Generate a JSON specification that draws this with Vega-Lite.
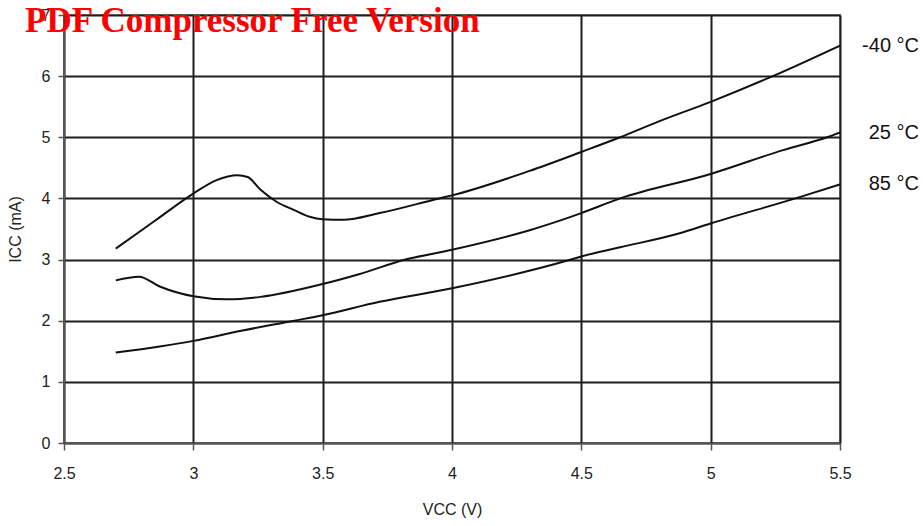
{
  "$schema": "https://vega.github.io/schema/vega-lite/v6.json",
  "width": 776,
  "height": 428,
  "autosize": {"type": "none"},
  "padding": {"left": 64, "top": 15, "right": 83, "bottom": 83},
  "background": "white",
  "config": {
    "view": {"stroke": "#8a8a8a", "strokeWidth": 2},
    "font": "Liberation Sans",
    "axis": {
      "grid": true,
      "gridColor": "#1e1e1e",
      "gridWidth": 2,
      "gridOpacity": 1,
      "domainColor": "#555",
      "domainWidth": 1.5,
      "tickColor": "#555",
      "tickWidth": 1.5,
      "labelFlush": false,
      "labelFont": "Liberation Sans",
      "labelFontSize": 16,
      "labelColor": "#222",
      "titleFont": "Liberation Sans",
      "titleFontSize": 16,
      "titleFontWeight": "normal",
      "titleColor": "#222"
    }
  },
  "title": {
    "text": "PDF Compressor Free Version",
    "anchor": "start",
    "frame": "group",
    "font": "Liberation Serif",
    "fontSize": 35,
    "fontWeight": "bold",
    "color": "#ff0000",
    "baseline": "alphabetic",
    "offset": 0,
    "dx": -39,
    "dy": 60
  },
  "datasets": {
    "curves": [
      {"temp": "-40 °C", "v": 2.7, "i": 3.18},
      {"temp": "-40 °C", "v": 2.85, "i": 3.63},
      {"temp": "-40 °C", "v": 3.0, "i": 4.08},
      {"temp": "-40 °C", "v": 3.09, "i": 4.3},
      {"temp": "-40 °C", "v": 3.17, "i": 4.38},
      {"temp": "-40 °C", "v": 3.21, "i": 4.35},
      {"temp": "-40 °C", "v": 3.26, "i": 4.14},
      {"temp": "-40 °C", "v": 3.32, "i": 3.95},
      {"temp": "-40 °C", "v": 3.39, "i": 3.81},
      {"temp": "-40 °C", "v": 3.45, "i": 3.7},
      {"temp": "-40 °C", "v": 3.5, "i": 3.66},
      {"temp": "-40 °C", "v": 3.58, "i": 3.65},
      {"temp": "-40 °C", "v": 3.72, "i": 3.76},
      {"temp": "-40 °C", "v": 3.95, "i": 4.0},
      {"temp": "-40 °C", "v": 4.0, "i": 4.05},
      {"temp": "-40 °C", "v": 4.3, "i": 4.45},
      {"temp": "-40 °C", "v": 4.5, "i": 4.76},
      {"temp": "-40 °C", "v": 4.65, "i": 5.0},
      {"temp": "-40 °C", "v": 4.8, "i": 5.26},
      {"temp": "-40 °C", "v": 5.0, "i": 5.58},
      {"temp": "-40 °C", "v": 5.24, "i": 6.0},
      {"temp": "-40 °C", "v": 5.5, "i": 6.5},
      {"temp": "25 °C", "v": 2.7, "i": 2.66},
      {"temp": "25 °C", "v": 2.79, "i": 2.72},
      {"temp": "25 °C", "v": 2.87, "i": 2.56},
      {"temp": "25 °C", "v": 3.0, "i": 2.4},
      {"temp": "25 °C", "v": 3.13, "i": 2.35},
      {"temp": "25 °C", "v": 3.26, "i": 2.39},
      {"temp": "25 °C", "v": 3.5, "i": 2.6},
      {"temp": "25 °C", "v": 3.64, "i": 2.76},
      {"temp": "25 °C", "v": 3.82, "i": 3.0},
      {"temp": "25 °C", "v": 4.0, "i": 3.16},
      {"temp": "25 °C", "v": 4.3, "i": 3.48},
      {"temp": "25 °C", "v": 4.5, "i": 3.76},
      {"temp": "25 °C", "v": 4.65, "i": 4.0},
      {"temp": "25 °C", "v": 5.0, "i": 4.4},
      {"temp": "25 °C", "v": 5.28, "i": 4.79},
      {"temp": "25 °C", "v": 5.45, "i": 5.0},
      {"temp": "25 °C", "v": 5.5, "i": 5.08},
      {"temp": "85 °C", "v": 2.7, "i": 1.48},
      {"temp": "85 °C", "v": 2.87, "i": 1.58},
      {"temp": "85 °C", "v": 3.0, "i": 1.67},
      {"temp": "85 °C", "v": 3.19, "i": 1.84},
      {"temp": "85 °C", "v": 3.39, "i": 2.0},
      {"temp": "85 °C", "v": 3.5, "i": 2.09},
      {"temp": "85 °C", "v": 3.72, "i": 2.31},
      {"temp": "85 °C", "v": 4.0, "i": 2.53},
      {"temp": "85 °C", "v": 4.46, "i": 3.0},
      {"temp": "85 °C", "v": 4.5, "i": 3.05},
      {"temp": "85 °C", "v": 4.65, "i": 3.2},
      {"temp": "85 °C", "v": 4.88, "i": 3.43},
      {"temp": "85 °C", "v": 5.0, "i": 3.59},
      {"temp": "85 °C", "v": 5.35, "i": 4.03},
      {"temp": "85 °C", "v": 5.5, "i": 4.23}
    ],
    "labels": [
      {"temp": "-40 °C", "v": 5.5, "i": 6.49},
      {"temp": "25 °C", "v": 5.5, "i": 5.07},
      {"temp": "85 °C", "v": 5.5, "i": 4.24}
    ]
  },
  "layer": [
    {
      "data": {"name": "curves"},
      "mark": {"type": "line", "color": "#111", "strokeWidth": 2, "interpolate": "monotone", "clip": true},
      "encoding": {
        "x": {
          "field": "v", "type": "quantitative",
          "scale": {"domain": [2.5, 5.5], "nice": false, "zero": false},
          "axis": {"values": [2.5, 3, 3.5, 4, 4.5, 5, 5.5], "format": ".1~f", "title": "VCC (V)", "tickSize": 7, "labelPadding": 15, "titlePadding": 20}
        },
        "y": {
          "field": "i", "type": "quantitative",
          "scale": {"domain": [0, 7], "nice": false},
          "axis": {"values": [0, 1, 2, 3, 4, 5, 6, 7], "format": "d", "title": "ICC (mA)", "tickSize": 6, "labelPadding": 8, "titlePadding": 18}
        },
        "detail": {"field": "temp"}
      }
    },
    {
      "data": {"name": "labels"},
      "mark": {"type": "text", "align": "right", "baseline": "middle", "dx": 79, "fontSize": 20, "font": "Liberation Sans", "color": "#111"},
      "encoding": {
        "x": {"field": "v", "type": "quantitative"},
        "y": {"field": "i", "type": "quantitative"},
        "text": {"field": "temp"}
      }
    }
  ]
}
